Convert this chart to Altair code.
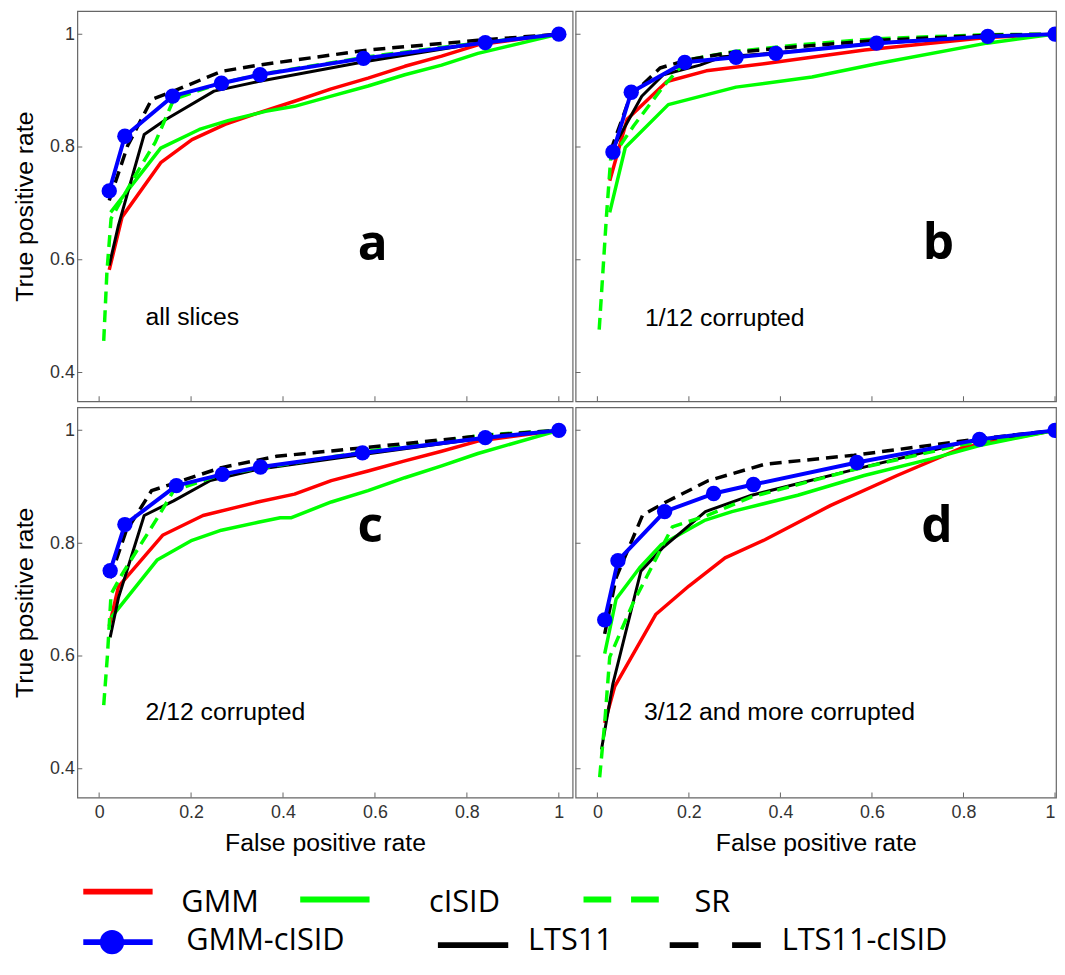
import altair as alt
import pandas as pd

# ---------------- data ----------------
series_names = ["GMM", "cISID", "SR", "GMM-cISID", "LTS11", "LTS11-cISID"]
panel_keys = ["a", "b", "c", "d"]
panel_captions = ["all slices", "1/12 corrupted", "2/12 corrupted", "3/12 and more corrupted"]
x_tick_values = [0, 0.2, 0.4, 0.6, 0.8, 1]
y_tick_values = [0.4, 0.6, 0.8, 1]

# panel a : all slices
a_gmm_fpr = [0.022, 0.05, 0.134, 0.202, 0.274, 0.345, 0.425, 0.505, 0.585, 0.665, 0.745, 0.824, 1.0]
a_gmm_tpr = [0.582, 0.676, 0.772, 0.813, 0.840, 0.860, 0.881, 0.903, 0.922, 0.943, 0.961, 0.981, 1.0]
a_cisid_fpr = [0.025, 0.134, 0.218, 0.282, 0.362, 0.425, 0.505, 0.585, 0.665, 0.745, 0.824, 1.0]
a_cisid_tpr = [0.684, 0.798, 0.831, 0.847, 0.863, 0.872, 0.890, 0.908, 0.928, 0.945, 0.966, 1.0]
a_sr_fpr = [0.010, 0.017, 0.026, 0.074, 0.122, 0.162, 0.202, 0.266, 0.346, 0.585, 0.840, 1.0]
a_sr_tpr = [0.456, 0.579, 0.673, 0.743, 0.808, 0.884, 0.896, 0.913, 0.928, 0.960, 0.986, 1.0]
a_lts_fpr = [0.022, 0.042, 0.098, 0.146, 0.250, 0.346, 0.577, 0.824, 1.0]
a_lts_tpr = [0.590, 0.661, 0.822, 0.849, 0.899, 0.916, 0.951, 0.984, 1.0]
a_ltsc_fpr = [0.022, 0.062, 0.114, 0.162, 0.266, 0.346, 0.585, 0.824, 1.0]
a_ltsc_tpr = [0.705, 0.802, 0.884, 0.899, 0.934, 0.945, 0.972, 0.989, 1.0]
a_gmmc_fpr = [0.022, 0.056, 0.160, 0.266, 0.350, 0.575, 0.840, 1.0]
a_gmmc_tpr = [0.722, 0.819, 0.890, 0.913, 0.928, 0.957, 0.985, 1.0]

# panel b : 1/12 corrupted
b_gmm_fpr = [0.027, 0.065, 0.152, 0.238, 0.368, 0.584, 0.851, 1.0]
b_gmm_tpr = [0.740, 0.849, 0.916, 0.935, 0.948, 0.972, 0.994, 1.0]
b_cisid_fpr = [0.027, 0.061, 0.155, 0.303, 0.469, 0.613, 0.851, 1.0]
b_cisid_tpr = [0.684, 0.799, 0.875, 0.906, 0.924, 0.948, 0.984, 1.0]
b_sr_fpr = [0.004, 0.020, 0.029, 0.079, 0.144, 0.195, 0.296, 0.440, 0.613, 0.851, 1.0]
b_sr_tpr = [0.476, 0.679, 0.778, 0.837, 0.907, 0.954, 0.969, 0.981, 0.992, 0.999, 1.0]
b_lts_fpr = [0.029, 0.097, 0.144, 0.224, 0.274, 0.382, 0.610, 0.853, 1.0]
b_lts_tpr = [0.790, 0.890, 0.928, 0.945, 0.960, 0.966, 0.984, 0.996, 1.0]
b_ltsc_fpr = [0.029, 0.072, 0.137, 0.195, 0.281, 0.440, 0.613, 0.851, 1.0]
b_ltsc_tpr = [0.793, 0.890, 0.940, 0.954, 0.966, 0.978, 0.989, 0.998, 1.0]
b_gmmc_fpr = [0.034, 0.074, 0.191, 0.303, 0.390, 0.610, 0.853, 1.0]
b_gmmc_tpr = [0.791, 0.897, 0.950, 0.959, 0.966, 0.984, 0.996, 1.0]

# panel c : 2/12 corrupted
c_gmm_fpr = [0.022, 0.042, 0.138, 0.226, 0.345, 0.425, 0.505, 0.585, 0.665, 0.745, 0.824, 1.0]
c_gmm_tpr = [0.653, 0.723, 0.814, 0.849, 0.873, 0.887, 0.911, 0.928, 0.946, 0.963, 0.981, 1.0]
c_cisid_fpr = [0.026, 0.126, 0.202, 0.266, 0.346, 0.394, 0.417, 0.505, 0.585, 0.665, 0.745, 0.824, 1.0]
c_cisid_tpr = [0.668, 0.770, 0.805, 0.823, 0.837, 0.845, 0.845, 0.873, 0.893, 0.916, 0.937, 0.959, 1.0]
c_sr_fpr = [0.010, 0.018, 0.026, 0.050, 0.130, 0.162, 0.266, 0.585, 0.840, 1.0]
c_sr_tpr = [0.513, 0.600, 0.710, 0.745, 0.849, 0.893, 0.922, 0.963, 0.992, 1.0]
c_lts_fpr = [0.024, 0.042, 0.098, 0.162, 0.242, 0.346, 0.573, 0.840, 1.0]
c_lts_tpr = [0.633, 0.703, 0.849, 0.875, 0.911, 0.931, 0.957, 0.987, 1.0]
c_ltsc_fpr = [0.024, 0.058, 0.114, 0.266, 0.386, 0.573, 0.840, 1.0]
c_ltsc_tpr = [0.738, 0.820, 0.893, 0.934, 0.954, 0.969, 0.991, 1.0]
c_gmmc_fpr = [0.024, 0.056, 0.168, 0.268, 0.351, 0.573, 0.840, 1.0]
c_gmmc_tpr = [0.751, 0.833, 0.902, 0.922, 0.935, 0.960, 0.987, 1.0]

# panel d : 3/12 and more corrupted
d_gmm_fpr = [0.016, 0.038, 0.128, 0.200, 0.279, 0.366, 0.510, 0.655, 0.799, 1.0]
d_gmm_tpr = [0.481, 0.546, 0.674, 0.724, 0.774, 0.806, 0.867, 0.920, 0.970, 1.0]
d_cisid_fpr = [0.016, 0.041, 0.092, 0.139, 0.236, 0.294, 0.438, 0.583, 0.727, 0.835, 1.0]
d_cisid_tpr = [0.604, 0.701, 0.756, 0.797, 0.841, 0.856, 0.885, 0.920, 0.949, 0.973, 1.0]
d_sr_fpr = [0.005, 0.016, 0.027, 0.077, 0.164, 0.243, 0.337, 0.554, 0.799, 1.0]
d_sr_tpr = [0.385, 0.481, 0.598, 0.692, 0.829, 0.850, 0.882, 0.929, 0.975, 1.0]
d_lts_fpr = [0.009, 0.034, 0.095, 0.142, 0.236, 0.337, 0.554, 0.799, 1.0]
d_lts_tpr = [0.434, 0.551, 0.750, 0.791, 0.856, 0.885, 0.929, 0.978, 1.0]
d_ltsc_fpr = [0.016, 0.041, 0.099, 0.150, 0.243, 0.366, 0.561, 0.835, 1.0]
d_ltsc_tpr = [0.639, 0.739, 0.850, 0.873, 0.911, 0.940, 0.956, 0.985, 1.0]
d_gmmc_fpr = [0.016, 0.045, 0.147, 0.254, 0.341, 0.567, 0.835, 1.0]
d_gmmc_tpr = [0.664, 0.769, 0.856, 0.888, 0.904, 0.943, 0.984, 1.0]

# ---------------- assemble tables from the arrays ----------------
curves = {
    "a": {"GMM": (a_gmm_fpr, a_gmm_tpr), "cISID": (a_cisid_fpr, a_cisid_tpr), "SR": (a_sr_fpr, a_sr_tpr),
          "LTS11": (a_lts_fpr, a_lts_tpr), "LTS11-cISID": (a_ltsc_fpr, a_ltsc_tpr), "GMM-cISID": (a_gmmc_fpr, a_gmmc_tpr)},
    "b": {"GMM": (b_gmm_fpr, b_gmm_tpr), "cISID": (b_cisid_fpr, b_cisid_tpr), "SR": (b_sr_fpr, b_sr_tpr),
          "LTS11": (b_lts_fpr, b_lts_tpr), "LTS11-cISID": (b_ltsc_fpr, b_ltsc_tpr), "GMM-cISID": (b_gmmc_fpr, b_gmmc_tpr)},
    "c": {"GMM": (c_gmm_fpr, c_gmm_tpr), "cISID": (c_cisid_fpr, c_cisid_tpr), "SR": (c_sr_fpr, c_sr_tpr),
          "LTS11": (c_lts_fpr, c_lts_tpr), "LTS11-cISID": (c_ltsc_fpr, c_ltsc_tpr), "GMM-cISID": (c_gmmc_fpr, c_gmmc_tpr)},
    "d": {"GMM": (d_gmm_fpr, d_gmm_tpr), "cISID": (d_cisid_fpr, d_cisid_tpr), "SR": (d_sr_fpr, d_sr_tpr),
          "LTS11": (d_lts_fpr, d_lts_tpr), "LTS11-cISID": (d_ltsc_fpr, d_ltsc_tpr), "GMM-cISID": (d_gmmc_fpr, d_gmmc_tpr)},
}

# ---------------- styles ----------------
STYLE = {
    "GMM": dict(color="#ff0000", width=3.5, dash=None),
    "cISID": dict(color="#00ff00", width=3.5, dash=None),
    "SR": dict(color="#00ff00", width=3.5, dash=[12, 7]),
    "LTS11": dict(color="#000000", width=3.0, dash=None),
    "LTS11-cISID": dict(color="#000000", width=3.5, dash=[12, 7]),
    "GMM-cISID": dict(color="#0000ff", width=4.0, dash=None),
}
DRAW_ORDER = ["GMM", "cISID", "LTS11", "SR", "LTS11-cISID", "GMM-cISID"]

AXIS_FONT = "Liberation Sans"
FRAME = "#666666"
PANEL_H = 394
Y_DOMAIN = [0.349, 1.041]
LEFT_W, RIGHT_W = 500, 485
LEFT_XDOM = [-0.0474, 1.030]
RIGHT_XDOM = [-0.0476, 1.0022]

# annotation anchors (data coordinates inside each panel)
LETTER_POS = {"a": (0.595, 0.599), "b": (0.745, 0.602), "c": (0.590, 0.802), "d": (0.742, 0.802)}
CAPTION_POS = {"a": (0.101, 0.484), "b": (0.104, 0.483), "c": (0.101, 0.486), "d": (0.102, 0.486)}


def make_panel(key, caption, width, xdom, show_x, show_y, flush):
    xs = alt.Scale(domain=xdom, nice=False, zero=False)
    ys = alt.Scale(domain=Y_DOMAIN, nice=False, zero=False)
    if show_x:
        xaxis = alt.Axis(orient="bottom", values=x_tick_values, format="~g", ticks=False,
                         domain=False, grid=False, labels=True, labelFlush=flush, labelPadding=6,
                         title="False positive rate", titlePadding=9)
    else:
        xaxis = None
    if show_y:
        yaxis = alt.Axis(orient="left", values=y_tick_values, format="~g", ticks=False,
                         domain=False, grid=False, labels=True, labelPadding=3,
                         title="True positive rate", titlePadding=12)
    else:
        yaxis = None

    layers = []
    for i, s in enumerate(DRAW_ORDER):
        fx, ty = curves[key][s]
        df = pd.DataFrame({"fpr": fx, "tpr": ty})
        st = STYLE[s]
        mk = dict(color=st["color"], strokeWidth=st["width"], clip=True, strokeJoin="round")
        if st["dash"]:
            mk["strokeDash"] = st["dash"]
            mk["strokeCap"] = "butt"
        xa = xaxis if i == 0 else None
        ya = yaxis if i == 0 else None
        layers.append(
            alt.Chart(df).mark_line(**mk).encode(
                x=alt.X("fpr:Q", scale=xs, axis=xa),
                y=alt.Y("tpr:Q", scale=ys, axis=ya),
                order=alt.Order("fpr:Q"),
            )
        )

    # inward (MATLAB style) tick marks on the bottom and left edges, drawn through the scales
    xt = alt.Chart(pd.DataFrame({"v": x_tick_values})).mark_tick(
        orient="vertical", size=10, thickness=1, color=FRAME, clip=True, opacity=1
    ).encode(x=alt.X("v:Q", scale=xs, axis=None), y=alt.YDatum(Y_DOMAIN[0], scale=ys, axis=None))
    yt = alt.Chart(pd.DataFrame({"v": y_tick_values})).mark_tick(
        orient="horizontal", size=10, thickness=1, color=FRAME, clip=True, opacity=1
    ).encode(y=alt.Y("v:Q", scale=ys, axis=None), x=alt.XDatum(xdom[0], scale=xs, axis=None))

    lx, ly = LETTER_POS[key]
    letter = alt.Chart(pd.DataFrame({"fpr": [lx], "tpr": [ly], "t": [key]})).mark_text(
        font="Open Sans", fontSize=50, fontWeight="bold", align="center", baseline="alphabetic", color="#000000"
    ).encode(x=alt.X("fpr:Q", scale=xs, axis=None), y=alt.Y("tpr:Q", scale=ys, axis=None), text="t:N")

    cx, cy = CAPTION_POS[key]
    cap = alt.Chart(pd.DataFrame({"fpr": [cx], "tpr": [cy], "t": [caption]})).mark_text(
        font=AXIS_FONT, fontSize=25, align="left", baseline="alphabetic", color="#000000"
    ).encode(x=alt.X("fpr:Q", scale=xs, axis=None), y=alt.Y("tpr:Q", scale=ys, axis=None), text="t:N")

    fx, ty = curves[key]["GMM-cISID"]
    pts = alt.Chart(pd.DataFrame({"fpr": fx, "tpr": ty})).mark_point(
        filled=True, size=240, color="#0000ff", opacity=1, clip=True
    ).encode(x=alt.X("fpr:Q", scale=xs, axis=None), y=alt.Y("tpr:Q", scale=ys, axis=None))

    return alt.layer(*layers, xt, yt, letter, cap, pts).resolve_axis(x="independent", y="independent").properties(
        width=width, height=PANEL_H
    )


pa = make_panel("a", panel_captions[0], LEFT_W, LEFT_XDOM, False, True, False)
pb = make_panel("b", panel_captions[1], RIGHT_W, RIGHT_XDOM, False, False, 6)
pc = make_panel("c", panel_captions[2], LEFT_W, LEFT_XDOM, True, True, False)
pd_ = make_panel("d", panel_captions[3], RIGHT_W, RIGHT_XDOM, True, False, 6)

top = alt.hconcat(pa, pb, spacing=1)
bottom = alt.hconcat(pc, pd_, spacing=1)
grid = alt.vconcat(top, bottom, spacing=4)

# ---------------- hand-drawn style legend (layout in page pixels) ----------------
LEG_W, LEG_H = 900, 100
ORIGIN_X, ORIGIN_Y = 77, 866
LEGEND_LAYOUT = {
    "GMM": dict(x1=83, x2=153, y=901, tx=182, ty=922, dash=None),
    "cISID": dict(x1=302, x2=372, y=909, tx=432, ty=922, dash=None),
    "SR": dict(x1=588, x2=665, y=909, tx=700, ty=922, dash=[28, 20]),
    "GMM-cISID": dict(x1=83, x2=153, y=952, tx=187, ty=960, dash=None),
    "LTS11": dict(x1=441, x2=512, y=955, tx=532, ty=960, dash=None),
    "LTS11-cISID": dict(x1=675, x2=767, y=955, tx=788, ty=960, dash=[29, 34]),
}
lxs = alt.Scale(domain=[0, LEG_W], nice=False, zero=False)
lys = alt.Scale(domain=[0, LEG_H], nice=False, zero=False, reverse=True)
leg_layers = []
for name in series_names:
    L = LEGEND_LAYOUT[name]
    st = STYLE[name]
    seg = pd.DataFrame({"x": [L["x1"] - ORIGIN_X], "x2": [L["x2"] - ORIGIN_X], "y": [L["y"] - ORIGIN_Y]})
    mk = dict(color=st["color"], strokeWidth=6, strokeCap="butt")
    if L["dash"]:
        mk["strokeDash"] = L["dash"]
    leg_layers.append(
        alt.Chart(seg).mark_rule(**mk).encode(
            x=alt.X("x:Q", scale=lxs, axis=None), x2="x2:Q", y=alt.Y("y:Q", scale=lys, axis=None)
        )
    )
    if name == "GMM-cISID":
        cdf = pd.DataFrame({"x": [(L["x1"] + L["x2"]) / 2 - ORIGIN_X - 6], "y": [L["y"] - ORIGIN_Y]})
        leg_layers.append(
            alt.Chart(cdf).mark_point(filled=True, size=600, color=st["color"], opacity=1).encode(
                x=alt.X("x:Q", scale=lxs, axis=None), y=alt.Y("y:Q", scale=lys, axis=None)
            )
        )
    tdf = pd.DataFrame({"x": [L["tx"] - ORIGIN_X], "y": [L["ty"] - ORIGIN_Y], "t": [name]})
    leg_layers.append(
        alt.Chart(tdf).mark_text(font="Open Sans", fontSize=31, align="left", baseline="alphabetic",
                                 color="#000000").encode(
            x=alt.X("x:Q", scale=lxs, axis=None), y=alt.Y("y:Q", scale=lys, axis=None), text="t:N"
        )
    )
legend = alt.layer(*leg_layers).properties(width=LEG_W, height=LEG_H, view=alt.ViewBackground(stroke="transparent"))

chart = alt.vconcat(grid, legend, spacing=0).properties(
    padding={"left": 4, "top": -2.5, "right": 0, "bottom": 0},
    background="white",
).configure_view(
    stroke=FRAME, strokeWidth=1.2
).configure_axis(
    labelFont=AXIS_FONT, titleFont=AXIS_FONT, labelFontSize=18, titleFontSize=25,
    titleFontWeight="normal", labelColor="#333333", titleColor="#000000",
)

chart.save("out.html", embed_options={"renderer": "svg", "actions": False})
